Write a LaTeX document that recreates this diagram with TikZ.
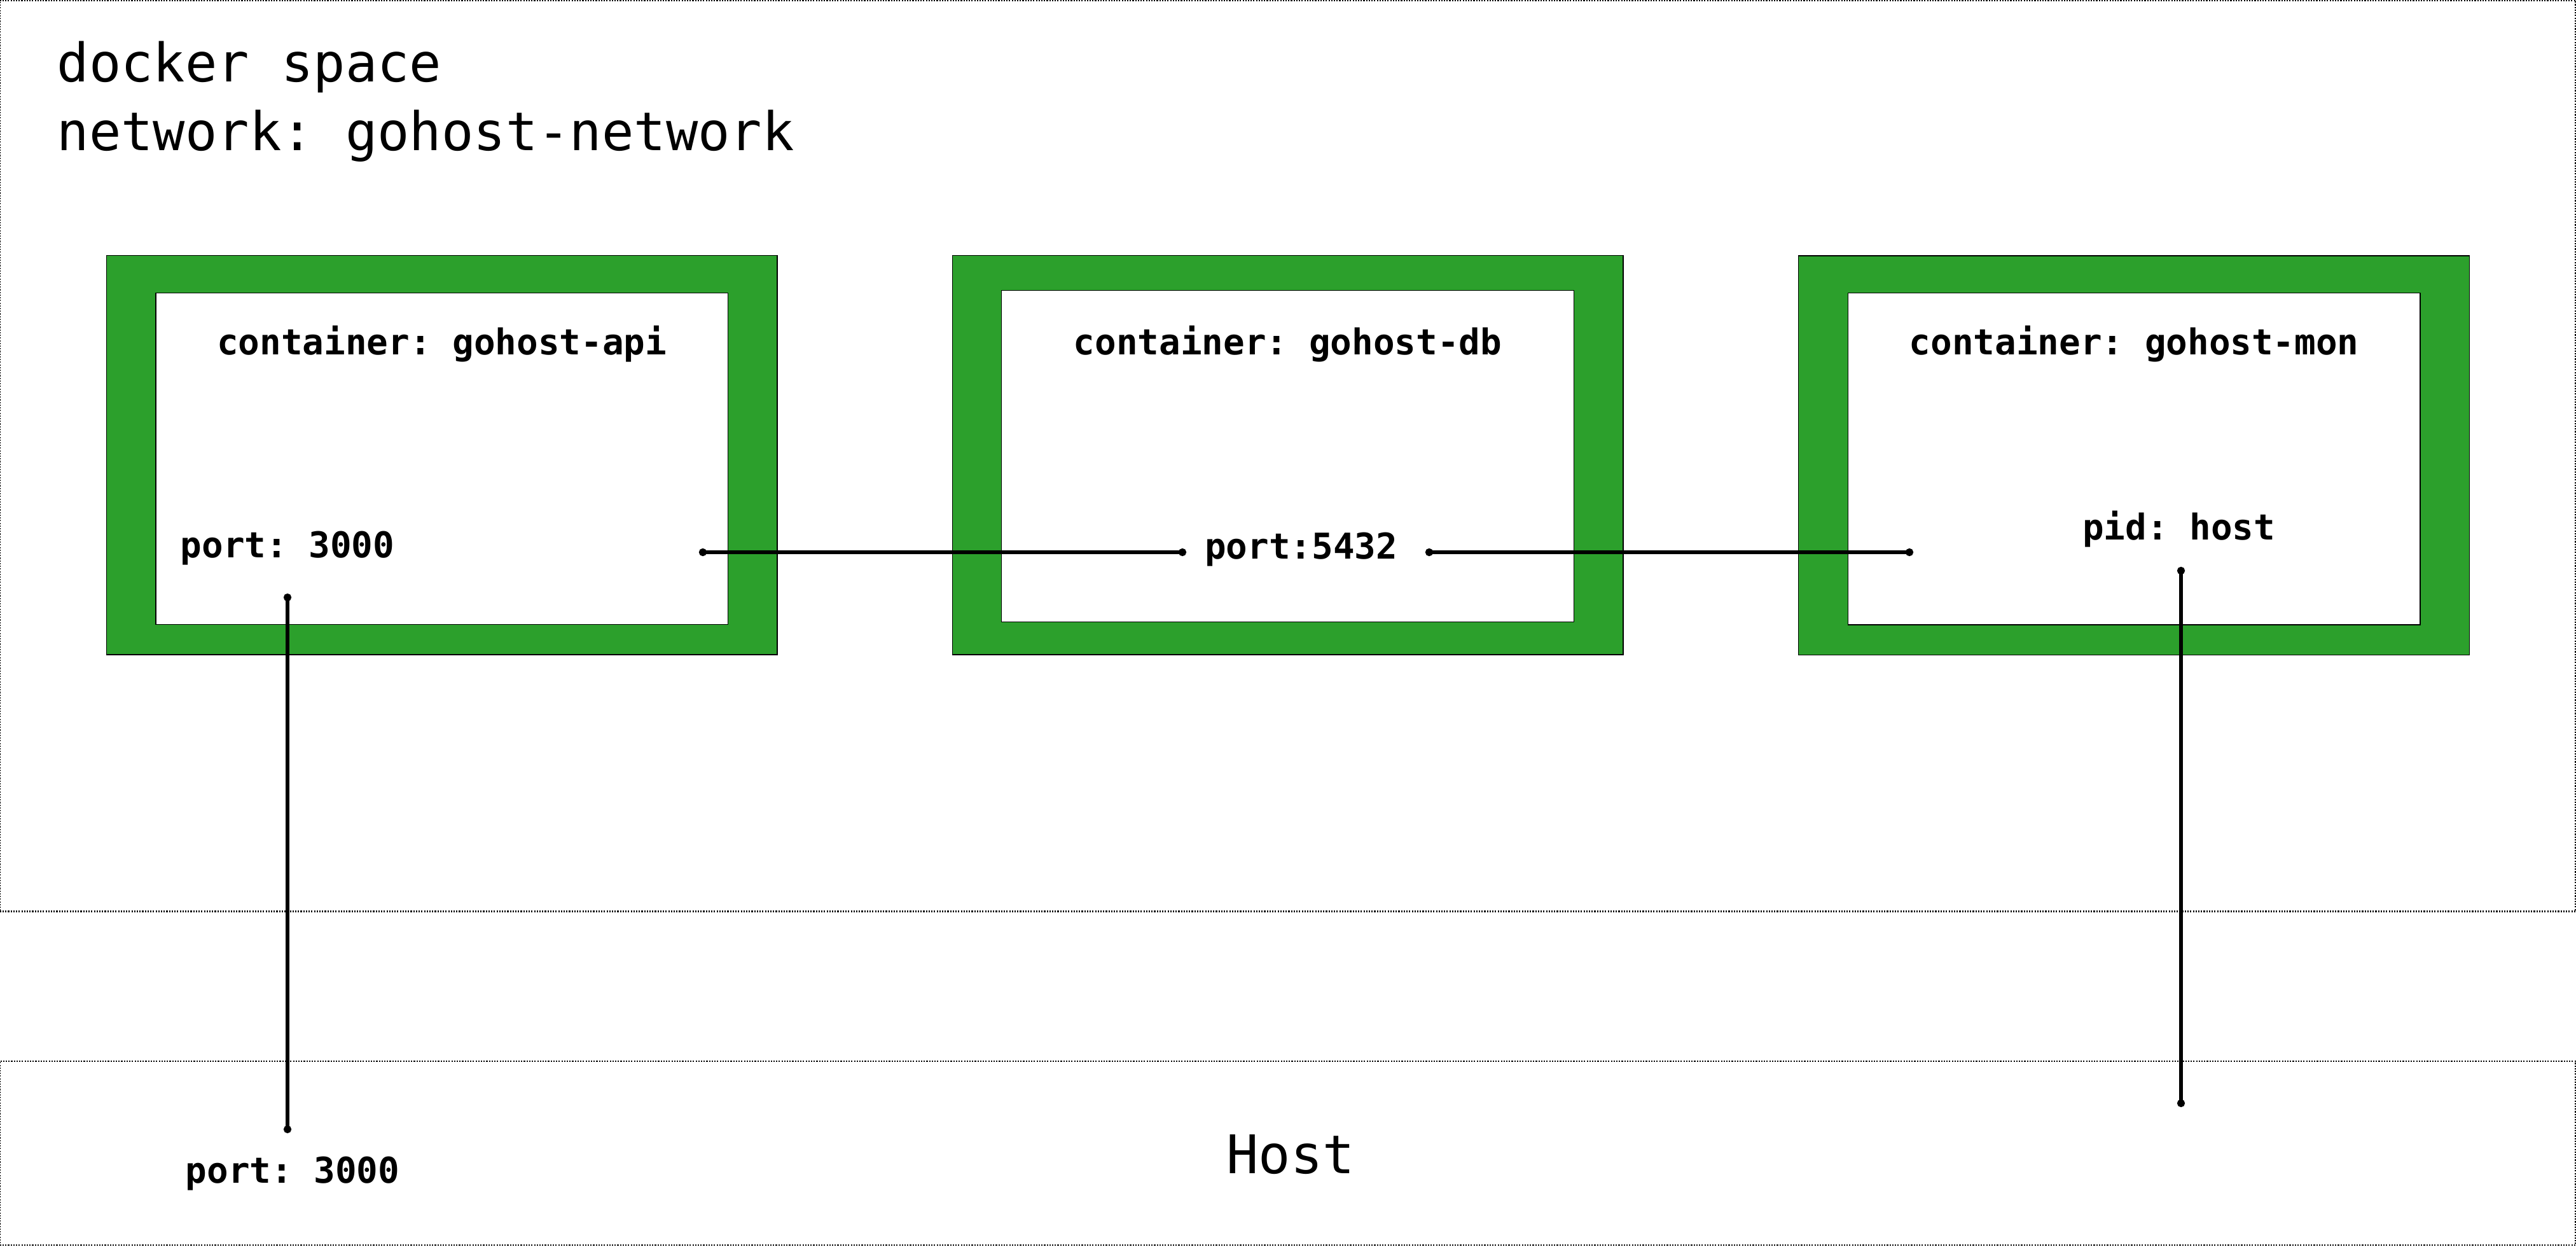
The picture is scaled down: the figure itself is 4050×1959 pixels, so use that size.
\documentclass[tikz,border=0pt]{standalone}
\usepackage{fontspec}
\setmonofont{DejaVu Sans Mono}
\usetikzlibrary{arrows.meta, positioning}
\definecolor{boxgreen}{RGB}{44,160,44}

\begin{document}
\begin{tikzpicture}[x=0.01cm, y=-0.01cm]

        % Setup the styles for the zones, containers and labels
        \tikzset{zone style/.style={draw, rectangle, inner sep=0pt,
                                    line width=.7pt,
                                    dash pattern=on .6pt off .6pt,
                                    minimum width=40.47cm},
                 outer style/.style={draw, fill=boxgreen, inner sep=0pt,
                                     line width=.4pt,
                                     minimum width=10.54cm, minimum height=6.27cm},
                 inner style/.style={draw, fill=white, inner sep=0pt,
                                     line width=.4pt,
                                     minimum width=8.99cm, minimum height=5.21cm},
                 title style/.style={font=\ttfamily\fontsize{23.8}{28}\selectfont,
                                     anchor=base west, inner sep=0pt},
                 label style/.style={font=\ttfamily\bfseries\fontsize{15.9}{19}\selectfont,
                                     anchor=base, inner sep=0pt},
                 link style/.style={line width=1.6pt,
                                    {Circle[length=3.4pt]}-{Circle[length=3.4pt]}}}

        \useasboundingbox (0,0) rectangle (4050,1959);

        % Draw the zones
        \node[zone style, minimum height=14.31cm] at (2024.5, 716.5) (docker) {};
        \node[zone style, minimum height=2.89cm]  at (2024.5, 1812.5) (host) {};
        \node[title style] at (89, 128)   (dockertitle)  {docker space};
        \node[title style] at (89, 236)   (networktitle) {network: gohost-network};
        \node[title style, anchor=base] at (2029, 1844) (hosttitle) {Host};

        % Draw the containers
        \node[outer style] at (694.8, 715.2)  (api outer) {};
        \node[inner style] at (694.7, 721.1)  (api)       {};
        \node[outer style] at (2024.8, 715.4) (db outer)  {};
        \node[inner style] at (2024.5, 716.9) (db)        {};
        \node[outer style] at (3355, 715.5)   (mon outer) {};
        \node[inner style] at (3355.2, 721.3) (mon)       {};

        % Draw the labels
        \node[label style] at (694.7, 557)  (api name) {container: gohost-api};
        \node[label style] at (2024.5, 557) (db name)  {container: gohost-db};
        \node[label style] at (3355.2, 557) (mon name) {container: gohost-mon};
        \node[label style, anchor=base west] at (283, 876.5) (api port) {port: 3000};
        \node[label style] at (2045.6, 878) (db port)  {port:5432};
        \node[label style] at (3425.6, 848) (mon pid)  {pid: host};
        \node[label style] at (460, 1859)   (host port) {port: 3000};

        % Connect the ports
        \coordinate (api right) at (1099, 868);
        \coordinate (db left)   at (1865, 868);
        \coordinate (db right)  at (2241, 868);
        \coordinate (mon left)  at (3008, 868);
        \coordinate (api down)  at (452, 933);
        \coordinate (api host)  at (452, 1781);
        \coordinate (mon down)  at (3429, 891);
        \coordinate (mon host)  at (3429, 1740);
        \draw[link style] (api right) -- (db left);
        \draw[link style] (db right) -- (mon left);
        \draw[link style] (api down) -- (api host);
        \draw[link style] (mon down) -- (mon host);
      \end{tikzpicture}
\end{document}
